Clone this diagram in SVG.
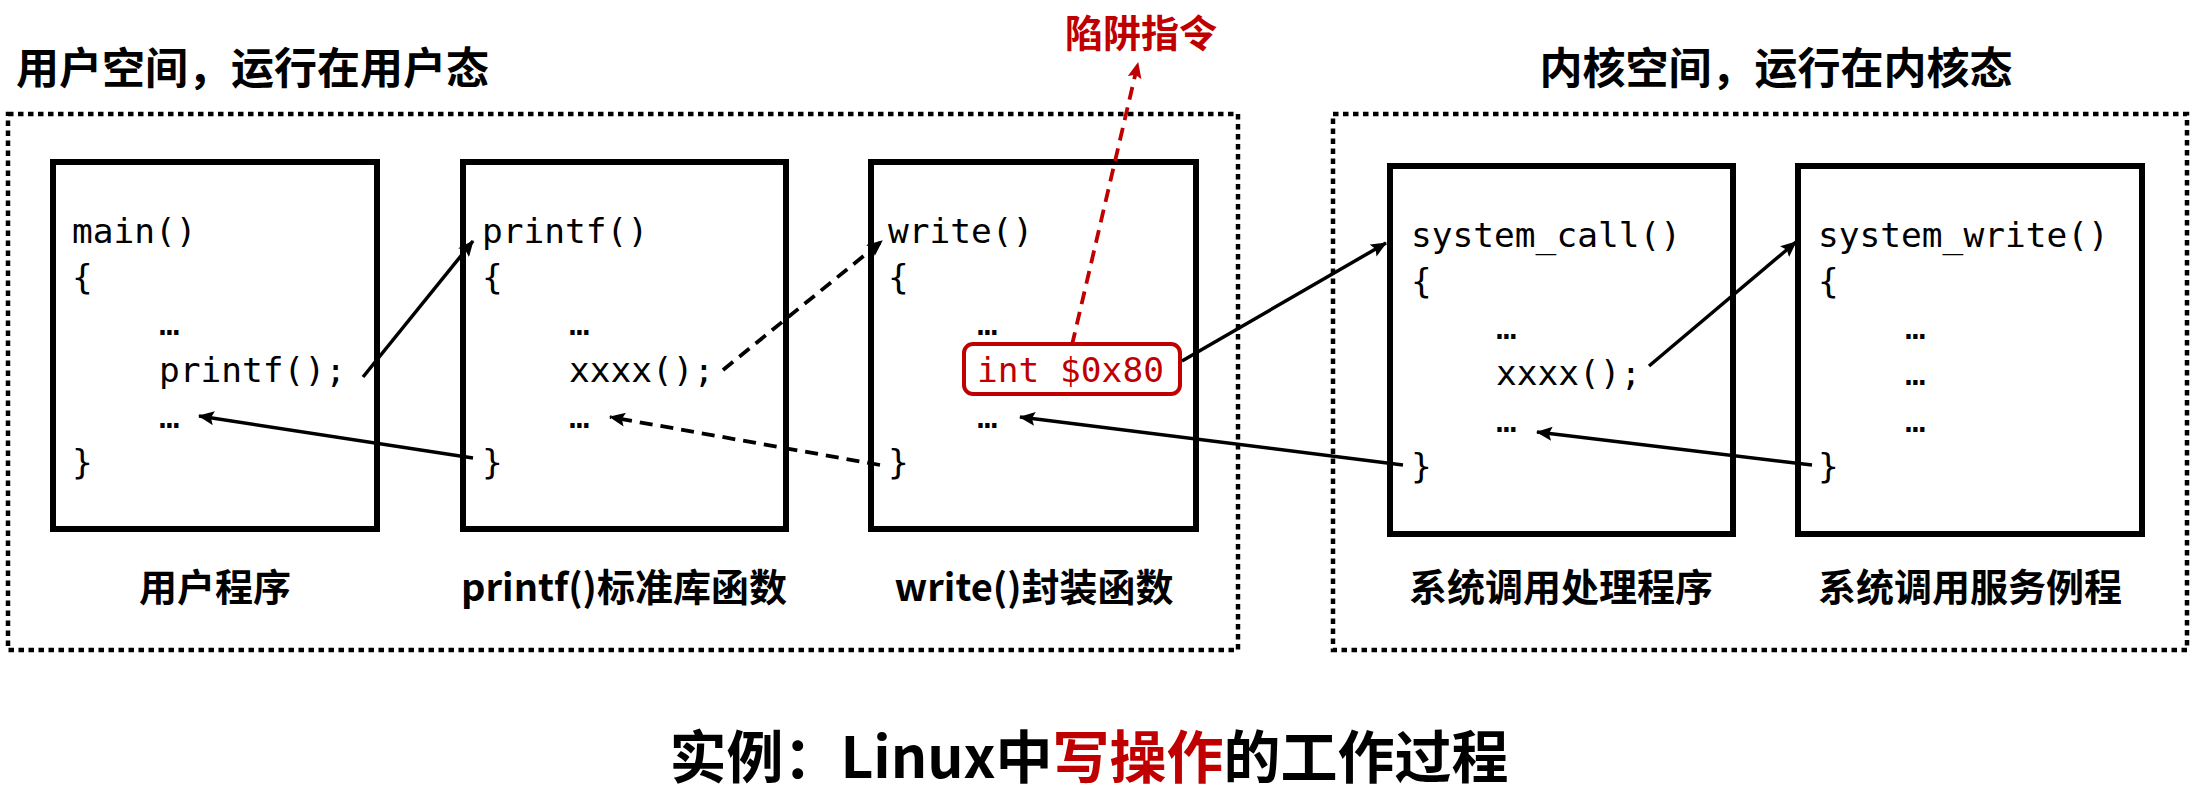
<svg xmlns="http://www.w3.org/2000/svg" width="2197" height="791" viewBox="0 0 2197 791">
<style>
.bg{fill:#ffffff}
.space{fill:none;stroke:#000;stroke-width:4.5;stroke-dasharray:5.5 4.5}
.box{fill:none;stroke:#000;stroke-width:6}
.code{font-family:"DejaVu Sans Mono","Liberation Mono",monospace;font-size:34.5px;fill:#000}
.title{font-family:"Noto Sans CJK SC",sans-serif;font-weight:bold;font-size:43px;fill:#000}
.label{font-family:"Noto Sans CJK SC",sans-serif;font-weight:bold;font-size:38px;fill:#000;text-anchor:middle}
.main{font-family:"Noto Sans CJK SC",sans-serif;font-weight:bold;font-size:57px;fill:#000;text-anchor:middle}
.solid{fill:none;stroke:#000;stroke-width:3.5;marker-end:url(#ah)}
.dash{fill:none;stroke:#000;stroke-width:3.8;stroke-dasharray:13 8;marker-end:url(#ah)}
.rdash{fill:none;stroke:#C00000;stroke-width:3.8;stroke-dasharray:13 8;marker-end:url(#ahr)}
.trap{fill:#fff;stroke:#C00000;stroke-width:4}
text.red,tspan.red{fill:#C00000}
</style>
<defs>
<marker id="ah" markerUnits="userSpaceOnUse" markerWidth="17" markerHeight="14" refX="15" refY="7" orient="auto" viewBox="0 0 17 14">
<path d="M0,0 L16,7 L0,14 L3,7 z" fill="#000"/>
</marker>
<marker id="ahr" markerUnits="userSpaceOnUse" markerWidth="17" markerHeight="14" refX="15" refY="7" orient="auto" viewBox="0 0 17 14">
<path d="M0,0 L16,7 L0,14 L3,7 z" fill="#C00000"/>
</marker>
</defs>
<rect class="bg" x="0" y="0" width="2197" height="791"/>

<g id="user-space">
<rect class="space" x="8" y="114" width="1230" height="536"/>
<text class="title" x="16" y="84">用户空间，运行在用户态</text>
</g>
<g id="kernel-space">
<rect class="space" x="1333" y="114" width="854" height="536"/>
<text class="title" x="1776" y="84" text-anchor="middle">内核空间，运行在内核态</text>
</g>

<g id="user-program">
<rect class="box" x="53" y="162" width="324" height="367"/>
<text class="code" x="72" y="243">main()</text>
<text class="code" x="72" y="289">{</text>
<text class="code" x="159" y="335">…</text>
<text class="code" x="159" y="382">printf();</text>
<text class="code" x="159" y="428">…</text>
<text class="code" x="72" y="474">}</text>
<text class="label" x="215" y="601">用户程序</text>
</g>

<g id="printf-lib">
<rect class="box" x="463" y="162" width="323" height="367"/>
<text class="code" x="482" y="243">printf()</text>
<text class="code" x="482" y="289">{</text>
<text class="code" x="569" y="335">…</text>
<text class="code" x="569" y="382">xxxx();</text>
<text class="code" x="569" y="428">…</text>
<text class="code" x="482" y="474">}</text>
<text class="label" x="624" y="601">printf()标准库函数</text>
</g>

<g id="write-wrapper">
<rect class="box" x="871" y="162" width="325" height="367"/>
<text class="code" x="888" y="243">write()</text>
<text class="code" x="888" y="289">{</text>
<text class="code" x="977" y="335">…</text>
<rect class="trap" x="964" y="344" width="216" height="50" rx="9" ry="9"/>
<text class="code red" x="977" y="382">int $0x80</text>
<text class="code" x="977" y="428">…</text>
<text class="code" x="888" y="474">}</text>
<text class="label" x="1034" y="601">write()封装函数</text>
</g>

<g id="trap-label">
<text class="label red" x="1141" y="47">陷阱指令</text>
</g>

<g id="syscall-handler">
<rect class="box" x="1390" y="166" width="343" height="368"/>
<text class="code" x="1411" y="247">system_call()</text>
<text class="code" x="1411" y="293">{</text>
<text class="code" x="1496" y="339">…</text>
<text class="code" x="1496" y="385">xxxx();</text>
<text class="code" x="1496" y="432">…</text>
<text class="code" x="1411" y="478">}</text>
<text class="label" x="1561" y="601">系统调用处理程序</text>
</g>

<g id="syscall-service">
<rect class="box" x="1798" y="166" width="344" height="368"/>
<text class="code" x="1818" y="247">system_write()</text>
<text class="code" x="1818" y="293">{</text>
<text class="code" x="1905" y="339">…</text>
<text class="code" x="1905" y="385">…</text>
<text class="code" x="1905" y="432">…</text>
<text class="code" x="1818" y="478">}</text>
<text class="label" x="1970" y="601">系统调用服务例程</text>
</g>

<g id="connectors">
<path class="solid" d="M363,377 L473,241"/>
<path class="solid" d="M473,458 L199,416"/>
<path class="dash" d="M723,370 L882,241"/>
<path class="dash" d="M880,465 L610,417"/>
<path class="rdash" d="M1072,345 L1138,63"/>
<path class="solid" d="M1182,361 L1386,243"/>
<path class="solid" d="M1403,465 L1020,417"/>
<path class="solid" d="M1649,366 L1796,242"/>
<path class="solid" d="M1812,465 L1537,432"/>
</g>

<g id="caption">
<text class="main" x="1089" y="778">实例：Linux中<tspan class="red">写操作</tspan>的工作过程</text>
</g>
</svg>
